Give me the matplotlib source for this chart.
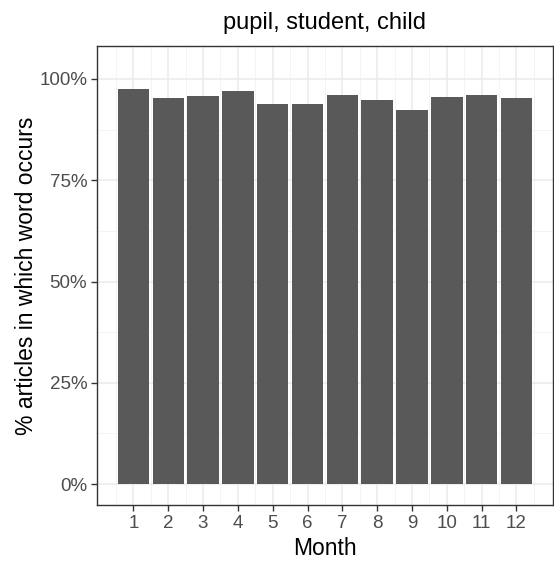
import numpy as np
import matplotlib
matplotlib.use("Agg")
import matplotlib.pyplot as plt
from matplotlib.ticker import FixedLocator, FuncFormatter

plt.rcParams['font.family'] = ['Liberation Sans', 'DejaVu Sans']

months = [1, 2, 3, 4, 5, 6, 7, 8, 9, 10, 11, 12]
share = [0.976, 0.952, 0.958, 0.971, 0.937, 0.939, 0.960, 0.949, 0.923, 0.955, 0.960, 0.952]
title = "pupil, student, child"

fig = plt.figure(figsize=(5.54, 5.62), dpi=100)
ax = fig.add_axes([0.175, 0.1014, 0.823, 0.817])

ax.bar(months, share, width=0.9, color="#595959", zorder=3)

ax.set_xlim(-0.045, 13.045)
ax.set_ylim(-0.0515, 1.0815)

ax.xaxis.set_major_locator(FixedLocator(months))
ax.xaxis.set_minor_locator(FixedLocator(np.arange(0.5, 13, 1.0)))
ax.yaxis.set_major_locator(FixedLocator([0, 0.25, 0.5, 0.75, 1.0]))
ax.yaxis.set_minor_locator(FixedLocator([0.125, 0.375, 0.625, 0.875]))
ax.yaxis.set_major_formatter(FuncFormatter(lambda v, p: f"{v*100:.0f}%"))

ax.grid(which="major", color="#EBEBEB", linewidth=1.1, zorder=0)
ax.grid(which="minor", color="#F3F3F3", linewidth=0.6, zorder=0)
ax.set_axisbelow(True)

for s in ax.spines.values():
    s.set_color("#333333")
    s.set_linewidth(1.0)

ax.tick_params(which="major", length=4, width=1, color="#333333",
               labelcolor="#4D4D4D", labelsize=13.5, pad=3)
ax.tick_params(which="minor", length=0)

ax.set_xlabel("Month", fontsize=16.5, labelpad=4)
ax.set_ylabel("% articles in which word occurs", fontsize=16.5, labelpad=1)
ax.set_title(title, fontsize=17, pad=12)

fig.savefig("out.png", dpi=100)
